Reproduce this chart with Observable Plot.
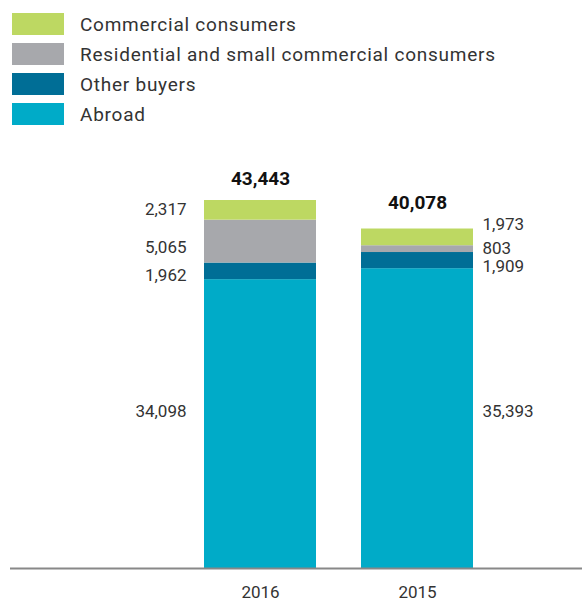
<!DOCTYPE html>
<html>
<head>
<meta charset="utf-8">
<script src="https://cdn.jsdelivr.net/npm/d3@7"></script>
<script src="https://cdn.jsdelivr.net/npm/@observablehq/plot@0.6"></script>
<style>
  body { margin: 0; background: #fff; font-family: Roboto, "Noto Sans", sans-serif; color: #333; }
  #legend { height: 140px; box-sizing: border-box; padding-top: 13px; padding-left: 12px; }
  .item { display: flex; align-items: center; height: 22px; margin-bottom: 8px; font-size: 19px; letter-spacing: 0.75px; }
  .sw { width: 52px; height: 22px; margin-right: 16px; flex: none; }
  #chart svg { display: block; }
</style>
</head>
<body>
<div id="legend"></div>
<div id="chart"></div>
<script>
const years = ["2016", "2015"];
const series = ["Abroad", "Other buyers", "Residential and small commercial consumers", "Commercial consumers"];
const legendOrder = ["Commercial consumers", "Residential and small commercial consumers", "Other buyers", "Abroad"];
const colors = ["#00abc8", "#006e96", "#a7a8ac", "#bdd862"];
const abroad = [34098, 35393];
const otherBuyers = [1962, 1909];
const residential = [5065, 803];
const commercial = [2317, 1973];
const totals = [43443, 40078];
const totalLabels = ["43,443", "40,078"];

// layout nudges (pixels) for value labels, per year then per series
const labelDy = { "2016": [-13, 4, 6, -1], "2015": [-7, 6, -1, -13] };
const totalDy = [-22, -26];

const values = [abroad, otherBuyers, residential, commercial];
const rows = [];
years.forEach((yr, i) => {
  let base = 0;
  series.forEach((s, k) => {
    const v = values[k][i];
    rows.push({ year: yr, series: s, value: v, lo: base, hi: base + v, mid: base + v / 2, k });
    base += v;
  });
});

const legend = document.getElementById("legend");
legendOrder.forEach(s => {
  const d = document.createElement("div");
  d.className = "item";
  d.innerHTML = `<span class="sw" style="background:${colors[series.indexOf(s)]}"></span><span>${s}</span>`;
  legend.appendChild(d);
});

const fmt = d3.format(",");
const labelMarks = [];
rows.forEach(r => {
  const left = r.year === "2016";
  labelMarks.push(Plot.text([r], {
    x: "year", y: "mid", text: d => fmt(d.value),
    textAnchor: left ? "end" : "start",
    dx: left ? -74 : 65,
    dy: labelDy[r.year][r.k],
    fontSize: 17, fill: "#333",
    style: "letter-spacing:0.5px"
  }));
});
const totalRows = years.map((y, i) => ({ year: y, total: totals[i], label: totalLabels[i], i }));
totalRows.forEach(t => {
  labelMarks.push(Plot.text([t], {
    x: "year", y: "total", text: "label", dy: totalDy[t.i],
    fontSize: 19, fontWeight: "bold", fill: "#111"
  }));
});

const chart = Plot.plot({
  width: 582,
  height: 463,
  marginTop: 60,
  marginBottom: 35,
  marginLeft: 10,
  marginRight: 0,
  style: { fontFamily: "Roboto, 'Noto Sans', sans-serif", background: "#fff" },
  x: { domain: years, paddingInner: 0.285, paddingOuter: 0.953, align: 0.641, label: null },
  y: { domain: [0, 43443], axis: null },
  color: { domain: series, range: colors },
  marks: [
    Plot.rectY(rows, { x: "year", y1: "lo", y2: "hi", fill: "series" }),
    Plot.ruleY([0], { stroke: "#888", strokeWidth: 2 }),
    Plot.axisX({ tickSize: 0, tickPadding: 17, fontSize: 17, color: "#333", label: null, style: "letter-spacing:0.5px" }),
    ...labelMarks
  ]
});
document.getElementById("chart").appendChild(chart);
</script>
</body>
</html>
